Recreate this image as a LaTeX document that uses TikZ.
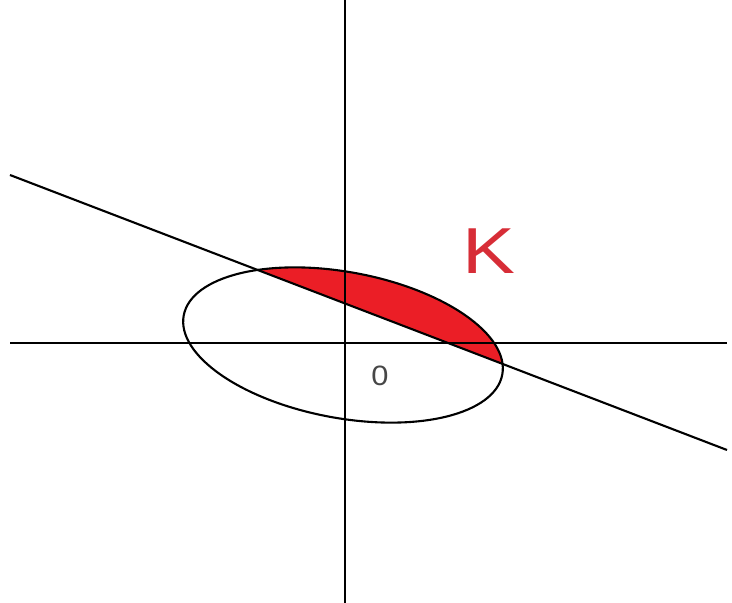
\documentclass[tikz,border=0pt]{standalone}
\usepackage{fontspec}
\setmainfont{Liberation Sans}
\definecolor{kred}{RGB}{235,30,38}
\definecolor{ktext}{RGB}{215,45,55}
\begin{document}
\begin{tikzpicture}[x=1pt,y=1pt,
  axis/.style={line width=2.6pt,black},
  curve/.style={line width=2.1pt,black},
  oval/.style={shift={(c)},rotate=-10.5}]
\useasboundingbox[fill=white] (0,0) rectangle (732,603);
\coordinate (yb) at (345,0);
\coordinate (yt) at (345,603);
\coordinate (xl) at (10,260);
\coordinate (xr) at (727,260);
\coordinate (la) at (10,428);
\coordinate (lb) at (727,153);
\coordinate (c) at (343,258);
\begin{scope}
  \clip (la) -- (lb) -- (727,603) -- (10,603) -- cycle;
  \fill[kred,oval] (0,0) ellipse [x radius=162pt, y radius=73pt];
\end{scope}
\draw[curve,oval] (0,0) ellipse [x radius=162pt, y radius=73pt];
\draw[axis] (yb) -- (yt);
\draw[axis] (xl) -- (xr);
\draw[curve] (la) -- (lb);
\node[text=ktext,font=\fontsize{65}{65}\selectfont,inner sep=0pt,xscale=1.22] (K) at (489,351.5) {K};
\node[text=black!72,font=\fontsize{28}{28}\selectfont,inner sep=0pt,xscale=1.1] (O) at (380,227) {0};
\end{tikzpicture}
\end{document}
